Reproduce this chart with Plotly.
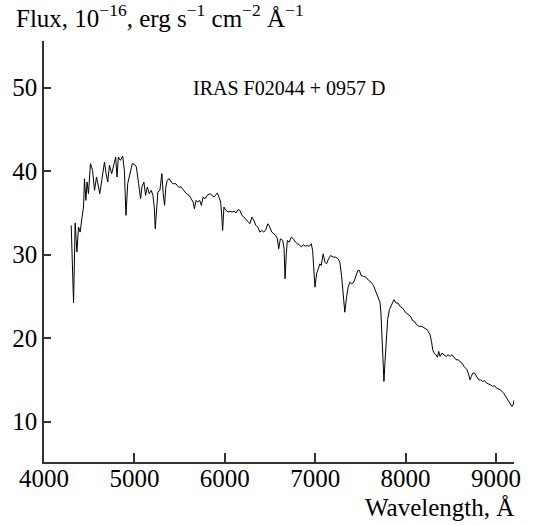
import plotly.graph_objects as go

wavelength = [
    4301, 4312, 4327, 4345, 4364, 4382, 4400, 4419, 4437, 4448, 4463, 4477, 4492,
    4514, 4537, 4559, 4581, 4603, 4617, 4639, 4669, 4687, 4705, 4724, 4749, 4775,
    4793, 4808, 4823, 4845, 4871, 4889, 4907, 4926, 4951, 4977, 5003, 5022,
    5047, 5069, 5083, 5105, 5124, 5143, 5165, 5187, 5205, 5220, 5231, 5245, 5260,
    5282, 5304, 5319, 5334, 5348, 5363, 5385, 5407, 5429, 5458, 5488, 5518, 5546,
    5576, 5606, 5628, 5650, 5664, 5683, 5701, 5723, 5741, 5760, 5782, 5804,
    5837, 5862, 5881, 5903, 5918, 5936, 5954, 5965, 5976, 5991, 6013, 6036, 6058,
    6080, 6102, 6124, 6146, 6168, 6190, 6212, 6234, 6256, 6278, 6300, 6322, 6344,
    6366, 6388, 6410, 6432, 6454, 6476, 6498, 6520, 6542, 6564, 6582, 6597, 6615,
    6641, 6656, 6667, 6681, 6692, 6714, 6736, 6758, 6781, 6803, 6825, 6847, 6869,
    6891, 6913, 6935, 6957, 6972, 6983, 6998, 7016, 7038, 7053, 7067, 7089, 7108,
    7126, 7148, 7170, 7199, 7229, 7254, 7273, 7292, 7310, 7328, 7347, 7365, 7383,
    7405, 7427, 7453, 7472, 7490, 7508, 7534, 7563, 7593, 7618, 7645, 7666, 7681,
    7703, 7717, 7728, 7739, 7750, 7761, 7772, 7788, 7802, 7821, 7846, 7872, 7894,
    7916, 7938, 7968, 7997, 8026, 8056, 8078, 8100, 8122, 8151, 8180, 8210, 8240,
    8250, 8272, 8287, 8301, 8316, 8338, 8353, 8367, 8382, 8404, 8426, 8449, 8471,
    8493, 8515, 8537, 8559, 8581, 8603, 8625, 8647, 8662, 8681, 8699, 8714, 8728,
    8743, 8764, 8787, 8809, 8831, 8853, 8875, 8897, 8919, 8941, 8963, 8985, 9007,
    9050, 9085, 9120, 9150, 9176, 9190, 9202,
]
flux = [
    33.5, 30.0, 24.2, 33.8, 30.3, 33.3, 32.7, 34.3, 35.7, 39.1, 36.5, 38.7, 37.3,
    40.9, 40.1, 37.7, 39.3, 38.1, 37.3, 38.9, 41.1, 39.7, 38.7, 40.7, 39.7, 40.9,
    41.7, 39.3, 41.7, 41.3, 41.8, 40.1, 34.7, 38.5, 39.7, 40.9, 40.8, 40.5,
    38.5, 36.7, 38.1, 38.7, 37.1, 38.1, 37.3, 37.7, 37.1, 35.7, 33.1, 35.3, 37.5,
    37.7, 39.7, 37.3, 35.9, 38.1, 38.9, 39.1, 38.7, 38.5, 38.5, 38.1, 38.1, 37.7,
    37.3, 37.1, 36.7, 36.3, 35.5, 36.5, 36.3, 36.5, 35.9, 36.9, 36.7, 37.1,
    37.3, 37.1, 36.9, 37.2, 37.4, 36.9, 36.3, 34.9, 32.9, 35.7, 35.3, 35.1, 35.2,
    35.1, 35.2, 35.0, 35.4, 35.3, 34.7, 34.5, 34.2, 33.9, 33.7, 34.5, 34.1, 33.5,
    33.3, 32.7, 32.9, 32.7, 33.0, 33.7, 33.3, 32.7, 32.5, 32.3, 31.9, 30.7, 31.9,
    31.7, 30.7, 27.1, 30.1, 31.7, 31.5, 32.1, 31.9, 31.5, 31.3, 31.2, 30.9, 31.2,
    31.0, 31.1, 31.0, 31.3, 30.5, 28.1, 26.1, 27.7, 28.3, 28.9, 28.7, 30.1, 29.1,
    28.9, 29.5, 29.9, 29.7, 29.7, 29.5, 29.1, 27.5, 24.9, 23.1, 24.9, 26.1, 26.7,
    26.5, 26.7, 27.5, 28.1, 28.1, 27.5, 27.4, 27.3, 26.9, 26.7, 26.3, 25.7, 25.5,
    24.9, 24.3, 23.0, 20.2, 17.0, 14.8, 17.0, 20.2, 22.2, 23.4, 24.0, 24.6, 24.2,
    24.2, 23.8, 23.6, 23.1, 22.9, 22.6, 22.1, 22.0, 21.6, 21.4, 21.4, 21.2, 21.0,
    20.8, 20.4, 19.6, 18.6, 18.2, 18.0, 17.7, 18.4, 17.8, 18.2, 18.0, 17.8, 18.0,
    17.8, 18.0, 17.7, 17.4, 17.4, 17.2, 17.0, 16.6, 16.4, 16.2, 15.6, 15.0, 15.4,
    15.8, 15.8, 15.4, 15.0, 15.0, 14.8, 14.9, 14.6, 14.5, 14.4, 14.2, 14.3, 14.0,
    13.8, 13.4, 12.8, 12.2, 11.8, 12.0, 12.6,
]

x_ticks = [4000, 5000, 6000, 7000, 8000, 9000]
y_ticks = [10, 20, 30, 40, 50]
object_label = "IRAS F02044 + 0957 D"
y_title = "Flux, 10<sup>−16</sup>, erg s<sup>−1</sup> cm<sup>−2</sup> Å<sup>−1</sup>"
x_title = "Wavelength, Å"

FONT = "Liberation Serif, Times New Roman, serif"

fig = go.Figure()
fig.add_trace(go.Scatter(x=wavelength, y=flux, mode="lines",
                         line=dict(color="black", width=1), showlegend=False))

axis_common = dict(showline=True, linecolor="#333", linewidth=1.5, ticks="inside",
                   tickcolor="#333", tickwidth=1.5, showgrid=False, zeroline=False,
                   tickfont=dict(family=FONT, size=25, color="black"))
fig.update_xaxes(range=[4000, 9200], tickvals=x_ticks, ticklen=9, ticklabelstandoff=-7,
                 **axis_common)
fig.update_yaxes(range=[5.15, 55.6], tickvals=y_ticks, ticklen=7, **axis_common)

fig.add_annotation(x=6706, y=50, xref="x", yref="y", text=object_label, showarrow=False,
                   font=dict(family=FONT, size=20, color="black"), xanchor="center", yanchor="middle")
fig.add_annotation(x=-0.064, y=1.0, xref="paper", yref="paper", text=y_title, showarrow=False,
                   font=dict(family=FONT, size=25, color="black"), xanchor="left", yanchor="bottom",
                   yshift=7)
fig.add_annotation(x=1.004, y=-0.109, xref="paper", yref="paper", text=x_title, showarrow=False,
                   font=dict(family=FONT, size=25, color="black"), xanchor="right", yanchor="middle")

fig.update_layout(width=541, height=525, margin=dict(l=42, r=27, t=41, b=63),
                  plot_bgcolor="white", paper_bgcolor="white")

fig.write_html("out.html")
